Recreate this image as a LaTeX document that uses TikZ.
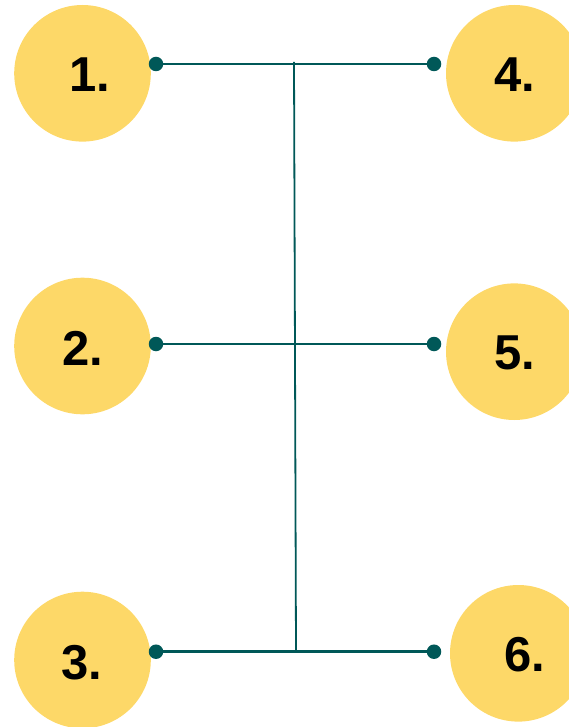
\documentclass[tikz,border=0pt]{standalone}
\usepackage{fontspec}
\setmainfont{Liberation Sans}
\definecolor{disc}{RGB}{253,216,104}
\definecolor{teal}{RGB}{0,88,88}
\begin{document}
\begin{tikzpicture}[x=1pt,y=-1pt,
  disk/.style={circle,fill=disc,draw=none,minimum size=136.6pt,inner sep=0pt},
  num/.style={inner sep=0pt,font=\fontsize{49}{49}\selectfont\bfseries,text=black},
  dot/.style={circle,fill=teal,draw=none,minimum size=14.5pt,inner sep=0pt},
  conn/.style={draw=teal,line width=2.6pt},
  stem/.style={draw=teal,line width=1.8pt}]
\useasboundingbox (0,0) rectangle (569,727);
\begin{scope}
\clip (0,0) rectangle (569,727);
\node[disk] (c1) at (82.5,73.3) {};
\node[disk] (c2) at (82.5,346) {};
\node[disk] (c3) at (82.5,660) {};
\node[disk] (c4) at (514.3,73.3) {};
\node[disk] (c5) at (514.3,351.7) {};
\node[disk] (c6) at (518.3,653.3) {};
\end{scope}
\node[num] (t1) at (90,74.5) {1.};
\node[num] (t2) at (82.5,348.5) {2.};
\node[num] (t3) at (82,662.5) {3.};
\node[num] (t4) at (515,74.5) {4.};
\node[num] (t5) at (514.5,353) {5.};
\node[num] (t6) at (524.5,654.7) {6.};
\coordinate (d1) at (156,64);
\coordinate (d4) at (434,64);
\coordinate (d2) at (156,344);
\coordinate (d5) at (434,344);
\coordinate (d3) at (156,651.7);
\coordinate (d6) at (434,651.7);
\coordinate (vt) at (294,62);
\coordinate (vb) at (296,652);
\draw[conn] (d1) -- (d4);
\draw[conn] (d2) -- (d5);
\draw[conn] (d3) -- (d6);
\draw[stem] (vt) -- (vb);
\foreach \d in {d1,d2,d3,d4,d5,d6}
  \node[dot] at (\d) {};
\end{tikzpicture}
\end{document}
